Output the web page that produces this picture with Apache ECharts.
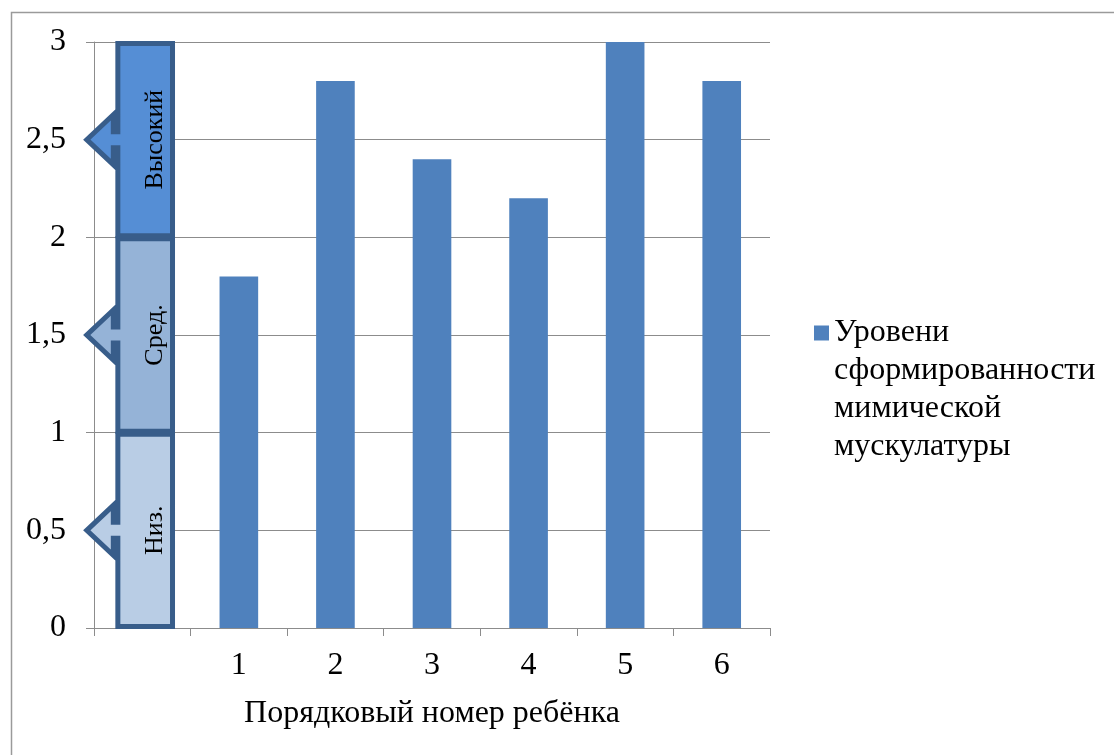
<!DOCTYPE html>
<html>
<head>
<meta charset="utf-8">
<script src="https://cdn.jsdelivr.net/npm/echarts@6/dist/echarts.min.js"></script>
<style>
  html, body { margin: 0; padding: 0; background: #ffffff; }
  #chart { width: 1114px; height: 755px; }
</style>
</head>
<body>
<div id="chart"></div>
<script>
// Categories on the x axis: the first slot holds the level scale, then children 1..6
const categories = ['', '1', '2', '3', '4', '5', '6'];
// Level of facial-muscle development for each child (first slot left empty)
const childValues = [null, 1.8, 2.8, 2.4, 2.2, 3, 2.8];
// Level scale bands: name and value range
const levelNames = ['Низ.', 'Сред.', 'Высокий'];
const levelFrom = [0, 1, 2];
const levelTo = [1, 2, 3];
const levelColors = ['#b9cde5', '#95b3d7', '#558ed5'];
// Y axis range
const yMin = 0, yMax = 3, yStep = 0.5;

const seriesName = 'Уровени сформированности мимической мускулатуры';
const legendLines = ['Уровени', 'сформированности', 'мимической', 'мускулатуры'];
const FONT = "'Liberation Serif', 'Times New Roman', serif";
const GRID_COLOR = '#8c8c8c';
const BORDER_DARK = '#385d8a';

const levelData = levelNames.map((n, i) => [0, levelFrom[i], levelTo[i], i]);

// Level band with a left-pointing arrow callout at its middle
function renderLevel(params, api) {
  const idx = api.value(3);
  const lo = api.value(1), hi = api.value(2);
  const bottom = api.coord([0, lo]);
  const top = api.coord([0, hi]);
  const mid = api.coord([0, (lo + hi) / 2]);
  const bw = api.size([1, 0])[0];
  const cx = bottom[0] + bw * 0.03;
  const halfW = bw * 0.283;
  const xl = cx - halfW, xr = cx + halfW;
  const yt = top[1] + 1.5, yb = bottom[1] - 1.5, ym = mid[1];
  const xTip = bottom[0] - bw * 0.575;
  const xHead = bottom[0] - bw * 0.3;
  const sh = 8, hh = 25;
  const pts = [
    [xr, yt], [xl, yt], [xl, ym - sh], [xHead, ym - sh], [xHead, ym - hh],
    [xTip, ym], [xHead, ym + hh], [xHead, ym + sh], [xl, ym + sh], [xl, yb], [xr, yb]
  ];
  return {
    type: 'group',
    children: [
      {
        type: 'polygon',
        shape: { points: pts },
        style: { fill: levelColors[idx], stroke: BORDER_DARK, lineWidth: 5, lineJoin: 'miter' }
      },
      {
        type: 'text',
        x: cx + 10,
        y: ym,
        rotation: Math.PI / 2,
        style: {
          text: levelNames[idx],
          font: '26px ' + FONT,
          fill: '#000000',
          align: 'center',
          verticalAlign: 'middle'
        }
      }
    ]
  };
}

// Legend label: blank leading lines keep the marker level with the first line
const legendText = '\n'.repeat(legendLines.length - 1) + legendLines.join('\n');

const chart = echarts.init(document.getElementById('chart'));
chart.setOption({
  animation: false,
  backgroundColor: '#ffffff',
  graphic: [{
    type: 'rect',
    left: 9, top: 10,
    shape: { width: 1200, height: 900 },
    style: { fill: 'none', stroke: '#9a9a9a', lineWidth: 1.5 },
    z: -10
  }],
  grid: { left: 94, right: 344, top: 42, bottom: 127 },
  legend: {
    data: [seriesName],
    left: 814,
    top: 200,
    padding: 0,
    itemWidth: 15,
    itemHeight: 15,
    icon: 'rect',
    formatter: () => legendText,
    textStyle: {
      fontFamily: FONT, fontSize: 32, color: '#000000', lineHeight: 38
    }
  },
  xAxis: {
    type: 'category',
    data: categories,
    name: 'Порядковый номер ребёнка',
    nameLocation: 'middle',
    nameGap: 70,
    nameTextStyle: { fontFamily: FONT, fontSize: 32, color: '#000000' },
    axisLine: { show: true, lineStyle: { color: GRID_COLOR, width: 1 } },
    axisTick: { show: true, length: 8, inside: false, lineStyle: { color: GRID_COLOR } },
    axisLabel: { fontFamily: FONT, fontSize: 32, color: '#000000', margin: 22 },
    splitLine: { show: false }
  },
  yAxis: {
    type: 'value',
    min: yMin, max: yMax, interval: yStep,
    axisLine: { show: true, lineStyle: { color: GRID_COLOR, width: 1 } },
    axisTick: { show: true, length: 8, inside: false, lineStyle: { color: GRID_COLOR } },
    axisLabel: {
      fontFamily: FONT, fontSize: 32, color: '#000000', margin: 28,
      formatter: v => String(v).replace('.', ',')
    },
    splitLine: { show: true, lineStyle: { color: GRID_COLOR, width: 1 } }
  },
  series: [
    {
      name: seriesName,
      type: 'bar',
      data: childValues,
      barWidth: '40%',
      itemStyle: { color: '#4f81bd' },
      z: 2
    },
    {
      name: 'levels',
      type: 'custom',
      data: levelData,
      encode: { x: 0, y: [1, 2] },
      renderItem: renderLevel,
      clip: false,
      z: 3
    }
  ]
});
</script>
</body>
</html>
